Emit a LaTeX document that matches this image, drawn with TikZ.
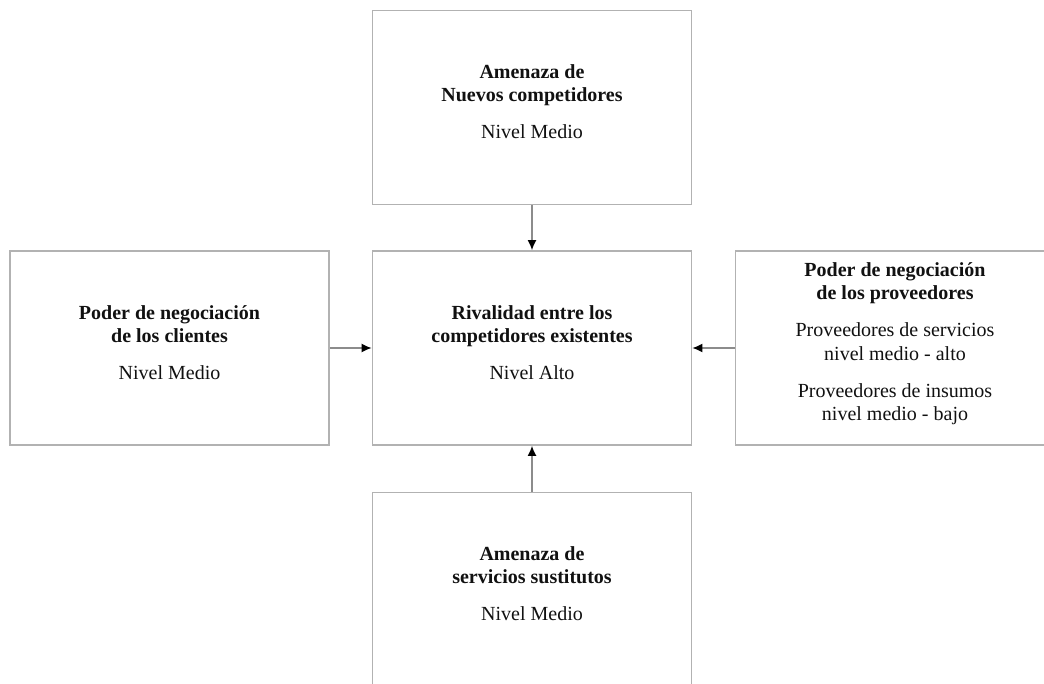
\documentclass[tikz,border=0pt]{standalone}
\usepackage{fontspec}
\setmainfont{Liberation Serif}
\usetikzlibrary{arrows.meta}
\definecolor{boxgray}{HTML}{B2B2B2}
\definecolor{linegray}{HTML}{8C8C8C}
\definecolor{ink}{HTML}{111111}
\begin{document}
\begin{tikzpicture}[x=1pt,y=-1pt,
  force/.style={draw=boxgray, line width=1.6pt, fill=white,
    minimum width=319pt, minimum height=194pt, inner sep=0pt},
  caption/.style={anchor=north, align=center, inner sep=0pt,
    text=ink, font=\fontsize{20}{23.5}\selectfont},
  conn/.style={draw=linegray, line width=1.6pt,
    -{Latex[length=10pt,width=9pt,black]}}]
  \useasboundingbox (0,0) rectangle (1044,684);
  \clip (0,0) rectangle (1044,684);
  \fill[white] (0,0) rectangle (1044,684);

  % the five forces
  \node[force] (top)  at (532,107.5) {};
  \node[force] (mid)  at (532,348)   {};
  \node[force] (cli)  at (169.5,348) {};
  \node[force] (prov) at (895,348)   {};
  \node[force] (sust) at (532,589.5) {};

  % their texts
  \node[caption] (top-t) at (532,64.3)
    {\textbf{Amenaza de}\\\textbf{Nuevos competidores}\\[13.5pt]Nivel Medio};
  \node[caption] (mid-t) at (532,305.3)
    {\textbf{Rivalidad entre los}\\\textbf{competidores existentes}\\[13.5pt]Nivel Alto};
  \node[caption] (cli-t) at (169.5,305.3)
    {\textbf{Poder de negociación}\\\textbf{de los clientes}\\[13.5pt]Nivel Medio};
  \node[caption] (prov-t) at (895,262.3)
    {\textbf{Poder de negociación}\\\textbf{de los proveedores}\\[13.5pt]Proveedores de servicios\\nivel medio - alto\\[13.5pt]Proveedores de insumos\\nivel medio - bajo};
  \node[caption] (sust-t) at (532,546.3)
    {\textbf{Amenaza de}\\\textbf{servicios sustitutos}\\[13.5pt]Nivel Medio};

  % pressure on the central rivalry
  \draw[conn] (top) -- (mid);
  \draw[conn] (sust) -- (mid);
  \draw[conn] (cli) -- (mid);
  \draw[conn] (prov) -- (mid);
\end{tikzpicture}
\end{document}
